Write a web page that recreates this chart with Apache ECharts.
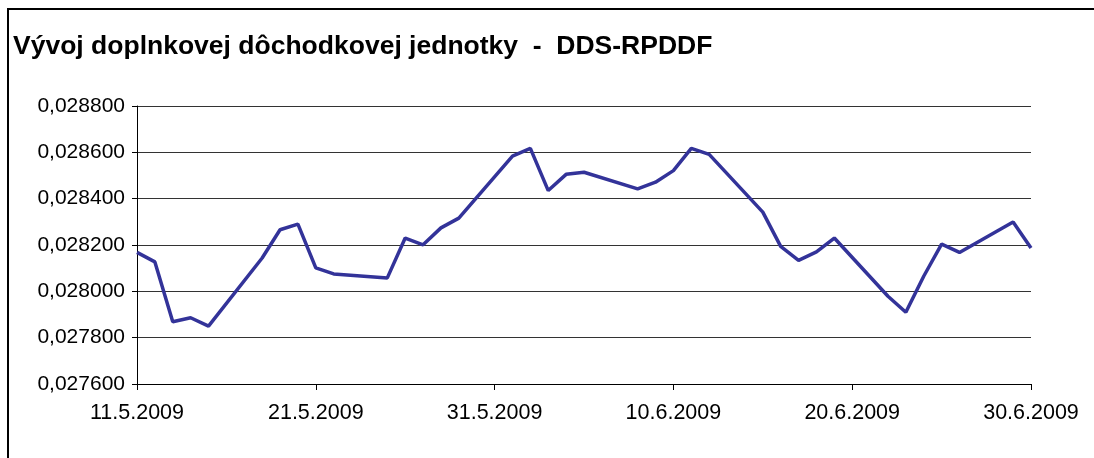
<!DOCTYPE html>
<html>
<head>
<meta charset="utf-8">
<script src="https://cdn.jsdelivr.net/npm/echarts@6/dist/echarts.min.js"></script>
<style>
    html, body { margin: 0; padding: 0; background: #fff; }
    #frame { position: absolute; left: 7px; top: 8px; width: 1200px; height: 600px; border-top: 2px solid #000; border-left: 2px solid #000; }
    #chart { position: absolute; left: 0; top: 0; width: 1094px; height: 458px; }
</style>
</head>
<body>
<div id="frame"></div>
<div id="chart"></div>
<script>
var startDate = '2009-05-11';
var endDate = '2009-06-30';
var dates = [
    '2009-05-11', '2009-05-12', '2009-05-13', '2009-05-14', '2009-05-15',
    '2009-05-18', '2009-05-19', '2009-05-20', '2009-05-21', '2009-05-22',
    '2009-05-25', '2009-05-26', '2009-05-27', '2009-05-28', '2009-05-29',
    '2009-06-01', '2009-06-02', '2009-06-03', '2009-06-04', '2009-06-05',
    '2009-06-08', '2009-06-09', '2009-06-10', '2009-06-11', '2009-06-12',
    '2009-06-15', '2009-06-16', '2009-06-17', '2009-06-18', '2009-06-19',
    '2009-06-22', '2009-06-23', '2009-06-24', '2009-06-25', '2009-06-26',
    '2009-06-29', '2009-06-30'
];
var values = [
    0.028168, 0.028127, 0.027869, 0.027886, 0.027850,
    0.028144, 0.028266, 0.028290, 0.028101, 0.028075,
    0.028058, 0.028230, 0.028201, 0.028274, 0.028316,
    0.028584, 0.028617, 0.028435, 0.028505, 0.028514,
    0.028442, 0.028471, 0.028521, 0.028617, 0.028591,
    0.028342, 0.028194, 0.028134, 0.028170, 0.028230,
    0.027979, 0.027910, 0.028065, 0.028204, 0.028168,
    0.028299, 0.028187
];
var yMin = 0.0276, yMax = 0.0288, yStep = 0.0002;
var dayStep = 10;

var DAY = 86400000;
function toUtc(s) {
    var p = s.split('-');
    return Date.UTC(+p[0], +p[1] - 1, +p[2]);
}
var t0 = toUtc(startDate);
function dayIndex(s) { return Math.round((toUtc(s) - t0) / DAY); }

var seriesData = dates.map(function (d, i) { return [dayIndex(d), values[i]]; });

var myChart = echarts.init(document.getElementById('chart'));

var option = {
    animation: false,
    title: {
        text: 'Vývoj doplnkovej dôchodkovej jednotky  -  DDS-RPDDF',
        left: 8, top: 28,
        textStyle: { fontFamily: 'Liberation Sans', fontSize: 26.5, fontWeight: 'bold', color: '#000' }
    },
    grid: { left: 137, right: 63, top: 106, bottom: 74 },
    xAxis: {
        type: 'value',
        min: 0,
        max: dayIndex(endDate),
        interval: dayStep,
        axisLine: { lineStyle: { color: '#000', width: 1 } },
        axisTick: { show: true, length: 6, inside: false, lineStyle: { color: '#000' } },
        splitLine: { show: false },
        axisLabel: {
            color: '#000', fontFamily: 'Liberation Sans', fontSize: 21.5, margin: 18,
            formatter: function (v) {
                var d = new Date(t0 + v * DAY);
                return d.getUTCDate() + '.' + (d.getUTCMonth() + 1) + '.' + d.getUTCFullYear();
            }
        }
    },
    yAxis: {
        type: 'value',
        min: yMin, max: yMax, interval: yStep,
        axisLine: { show: true, lineStyle: { color: '#000', width: 1 } },
        axisTick: { show: true, length: 5, lineStyle: { color: '#000' } },
        splitLine: { show: true, lineStyle: { color: '#333', width: 1 } },
        axisLabel: {
            color: '#000', fontFamily: 'Liberation Sans', fontSize: 21, margin: 12,
            formatter: function (v) { return v.toFixed(6).replace('.', ','); }
        }
    },
    series: [{
        type: 'line',
        data: seriesData,
        showSymbol: false,
        symbol: 'none',
        lineStyle: { color: '#333399', width: 3.5 },
        itemStyle: { color: '#333399' }
    }]
};

myChart.setOption(option);
window.addEventListener('resize', function () {
    myChart.resize();
});
</script>
</body>
</html>
